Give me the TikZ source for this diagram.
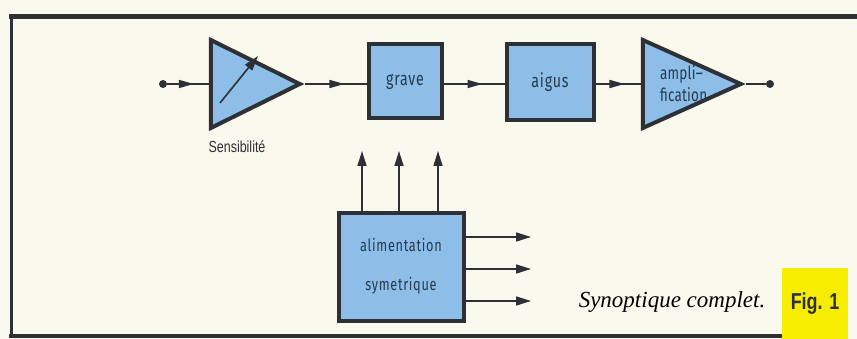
\documentclass[tikz,border=0pt]{standalone}
\usepackage{fontspec}
\setmainfont{Liberation Serif}
\newfontfamily\boxfont[FakeStretch=0.75,LetterSpace=4]{Fira Sans}
\newfontfamily\ampfont[FakeStretch=0.75,LetterSpace=1]{Fira Sans}
\newfontfamily\labfont[FakeStretch=0.78]{Liberation Sans}
\usetikzlibrary{arrows.meta,shapes.geometric,decorations.markings}
\definecolor{paper}{RGB}{249,249,238}
\definecolor{blockblue}{RGB}{140,190,232}
\definecolor{edge}{RGB}{45,48,52}
\definecolor{slate}{RGB}{40,58,78}
\definecolor{figyellow}{RGB}{247,237,0}
\tikzset{
  wire/.style={draw=edge,line width=1.6pt},
  flow/.style={wire,-{Triangle[length=15pt,width=9pt]}},
  midflow/.style={wire,postaction={decorate},
    decoration={markings,mark=at position 0.64 with {\arrow{Triangle[length=15pt,width=8pt]}}}},
  block/.style={draw=edge,line width=4pt,fill=blockblue,inner sep=0pt,text=slate,
                font=\boxfont\fontsize{19}{21}\selectfont},
  amp/.style={draw=edge,line width=4pt,fill=blockblue,isosceles triangle,
              isosceles triangle stretches,inner sep=0pt,anchor=apex},
  terminal/.style={circle,fill=edge,inner sep=0pt,minimum size=8pt},
  frame/.style={draw=edge,line cap=rect},
}

\begin{document}
\begin{tikzpicture}[x=1pt,y=-1pt]
  \fill[paper] (0,0) rectangle (857,339);
  \useasboundingbox (0,0) rectangle (857,339);
  % outer rules
  \draw[frame,line width=5pt] (11,17) -- (857,17);
  \draw[frame,line width=3pt] (11,17) -- (11,336);
  \draw[frame,line width=4pt] (11,336) -- (782,336);

  \node[terminal] (IN) at (163,84) {};
  \node[amp,minimum width=88pt,minimum height=89pt] (SENS) at (305,84) {};
  \node[font=\labfont\fontsize{16}{18}\selectfont,text=edge] (SENSL) at (237,147) {Sensibilité};
  \node[block,minimum width=73pt,minimum height=74pt] (GRAVE) at (405,81.5) {grave};
  \node[block,minimum width=87pt,minimum height=76pt] (AIGUS) at (550,82.5) {aigus};
  \node[amp,minimum width=88pt,minimum height=98pt] (AMPLI) at (746,84) {};
  \node[font=\ampfont\fontsize{18}{22}\selectfont,text=slate,align=left,anchor=west,inner sep=0pt]
    (AMPLIL) at (660,84) {ampli–\\fication};
  \node[terminal] (OUT) at (770,84) {};
  \node[block,minimum width=125pt,minimum height=107pt,
        font=\boxfont\fontsize{17}{19}\selectfont] (ALIM) at (401,267)
    {\raisebox{4pt}{\begin{tabular}{@{}c@{}}alimentation\\[20pt]symetrique\end{tabular}}};

  \draw[midflow] (IN) -- (IN -| SENS.lower side);
  \draw[midflow] (SENS.apex) -- (SENS.apex -| GRAVE.west);
  \draw[midflow] (SENS.apex -| GRAVE.east) -- (SENS.apex -| AIGUS.west);
  \draw[midflow] (SENS.apex -| AIGUS.east) -- (AMPLI.lower side);
  \draw[wire] (AMPLI.apex) -- (OUT);

  % potentiometer arrow
  \coordinate (KNOBA) at (220,103);
  \coordinate (KNOBB) at (258,56);
  \draw[flow] (KNOBA) -- (KNOBB);

  % supply rails
  \foreach \x [count=\i] in {362,399,438}
    \coordinate (UP\i) at (\x,151);
  \foreach \y [count=\i] in {237,269,301}
    \coordinate (RAIL\i) at (531,\y);
  \foreach \i in {1,2,3} {
    \draw[flow] (ALIM.north -| UP\i) -- (UP\i);
    \draw[flow] (ALIM.east |- RAIL\i) -- (RAIL\i);
  }

  \node[font=\itshape\fontsize{23}{25}\selectfont] (CAPTION) at (672,302) {Synoptique complet.};
  \node[fill=figyellow,minimum width=66pt,minimum height=71pt,text=edge,
        font=\labfont\bfseries\fontsize{23}{25}\selectfont] (FIG) at (815,303.5) {Fig. 1};
\end{tikzpicture}
\end{document}
